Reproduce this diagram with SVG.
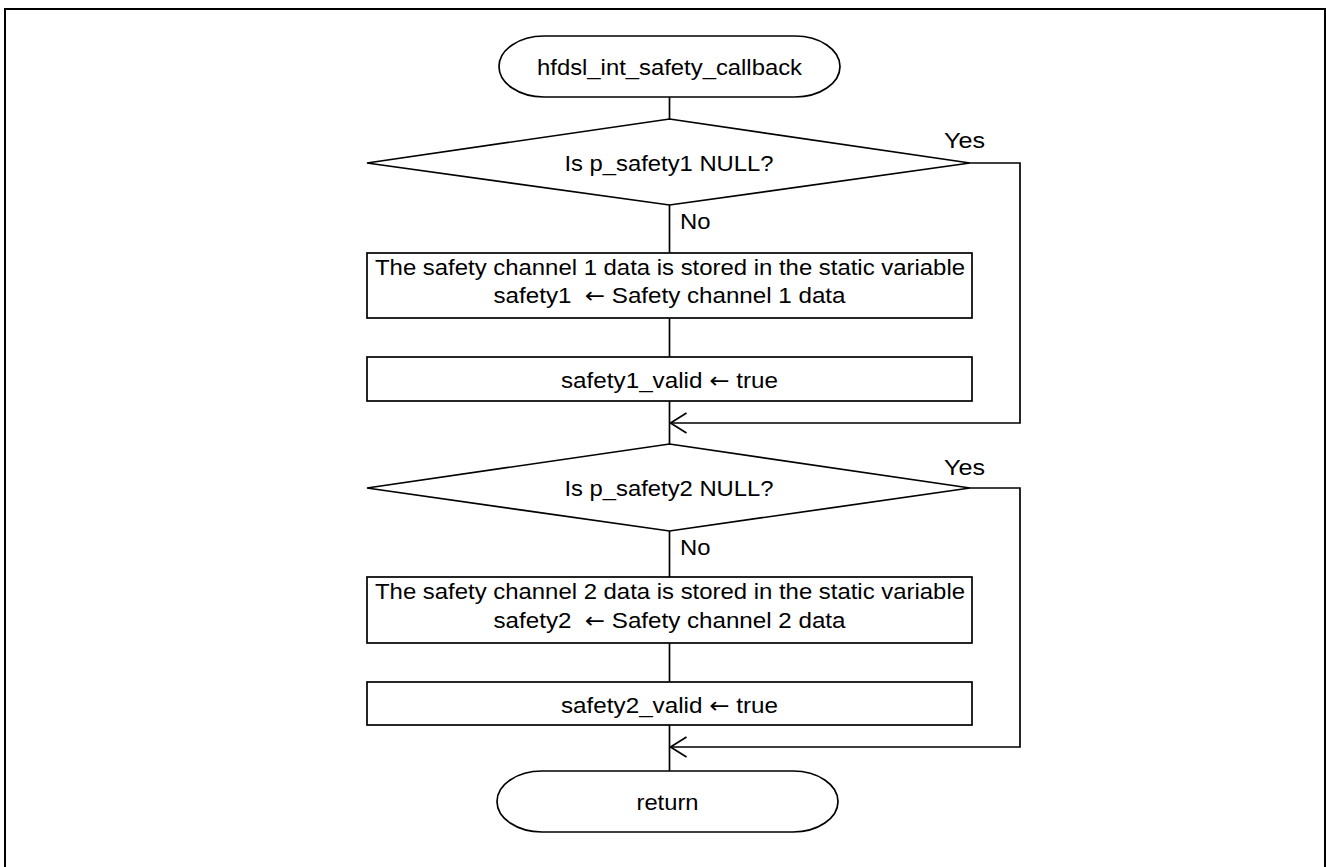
<svg xmlns="http://www.w3.org/2000/svg" width="1326" height="867" viewBox="0 0 1326 867">
<style>
  .shape { fill: #ffffff; stroke: #000000; stroke-width: 1.7; }
  .conn { fill: none; stroke: #000000; stroke-width: 1.7; }
  text { font-family: "Liberation Sans", Arial, sans-serif; font-size: 22px; fill: #000000; }
  .c { text-anchor: middle; }
  .arw { font-family: "DejaVu Sans", sans-serif; }
</style>
<defs>
  <marker id="arrow" markerUnits="userSpaceOnUse" markerWidth="20" markerHeight="24" refX="17" refY="11" orient="auto" viewBox="0 0 20 24">
    <path d="M1,1 L17,11 L1,21" fill="none" stroke="#000000" stroke-width="1.7"/>
  </marker>
</defs>
<rect x="5" y="9" width="1320" height="870" fill="#ffffff" stroke="#000000" stroke-width="2"/>
<g id="connectors">
  <line class="conn" x1="669.5" y1="97" x2="669.5" y2="119"/>
  <line class="conn" x1="669.5" y1="205" x2="669.5" y2="253"/>
  <line class="conn" x1="669.5" y1="318" x2="669.5" y2="357"/>
  <line class="conn" x1="669.5" y1="401" x2="669.5" y2="444"/>
  <polyline class="conn" points="970,163 1020,163 1020,423 670.5,423" marker-end="url(#arrow)"/>
  <line class="conn" x1="669.5" y1="531" x2="669.5" y2="577"/>
  <line class="conn" x1="669.5" y1="643" x2="669.5" y2="682"/>
  <line class="conn" x1="669.5" y1="725" x2="669.5" y2="771"/>
  <polyline class="conn" points="970,488 1020,488 1020,747 670.5,747" marker-end="url(#arrow)"/>
  <text x="944" y="148" textLength="41" lengthAdjust="spacingAndGlyphs">Yes</text>
  <text x="680" y="229" textLength="30.5" lengthAdjust="spacingAndGlyphs">No</text>
  <text x="944" y="475" textLength="41" lengthAdjust="spacingAndGlyphs">Yes</text>
  <text x="680" y="555" textLength="30.5" lengthAdjust="spacingAndGlyphs">No</text>
</g>
<g id="start">
  <rect class="shape" x="499" y="36" width="341" height="61" rx="45" ry="30.5"/>
  <text class="c" x="669.5" y="75" textLength="265" lengthAdjust="spacingAndGlyphs">hfdsl_int_safety_callback</text>
</g>
<g id="decision1">
  <polygon class="shape" points="669.5,119 970,163 669.5,205 367,163"/>
  <text class="c" x="669" y="171" textLength="209" lengthAdjust="spacingAndGlyphs">Is p_safety1 NULL?</text>
</g>
<g id="process1">
  <rect class="shape" x="367" y="253" width="605" height="65"/>
  <text class="c" x="670" y="275" textLength="590" lengthAdjust="spacingAndGlyphs">The safety channel 1 data is stored in the static variable</text>
  <text class="c" x="669.5" y="303" textLength="352" lengthAdjust="spacingAndGlyphs" xml:space="preserve">safety1  <tspan class="arw">←</tspan> Safety channel 1 data</text>
</g>
<g id="process2">
  <rect class="shape" x="367" y="357" width="605" height="44"/>
  <text class="c" x="669.5" y="388" textLength="217" lengthAdjust="spacingAndGlyphs">safety1_valid <tspan class="arw">←</tspan> true</text>
</g>
<g id="decision2">
  <polygon class="shape" points="669.5,444 970,488 669.5,531 367,488"/>
  <text class="c" x="669" y="496" textLength="209" lengthAdjust="spacingAndGlyphs">Is p_safety2 NULL?</text>
</g>
<g id="process3">
  <rect class="shape" x="367" y="577" width="605" height="66"/>
  <text class="c" x="670" y="599" textLength="590" lengthAdjust="spacingAndGlyphs">The safety channel 2 data is stored in the static variable</text>
  <text class="c" x="669.5" y="628" textLength="352" lengthAdjust="spacingAndGlyphs" xml:space="preserve">safety2  <tspan class="arw">←</tspan> Safety channel 2 data</text>
</g>
<g id="process4">
  <rect class="shape" x="367" y="682" width="605" height="43"/>
  <text class="c" x="669.5" y="713" textLength="217" lengthAdjust="spacingAndGlyphs">safety2_valid <tspan class="arw">←</tspan> true</text>
</g>
<g id="end">
  <rect class="shape" x="497" y="771" width="341" height="61" rx="45" ry="30.5"/>
  <text class="c" x="667.5" y="810" textLength="62" lengthAdjust="spacingAndGlyphs">return</text>
</g>
</svg>
